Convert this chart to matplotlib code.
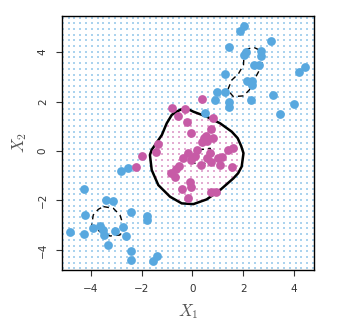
import numpy as np
import matplotlib
matplotlib.use("Agg")
import matplotlib.pyplot as plt
from matplotlib.path import Path

plt.rcParams["mathtext.fontset"] = "cm"

# observations, class 1 (blue) and class 2 (purple)
blue_x1 = [2.03, 1.89, 1.44, 3.08, 2.10, 2.05, 2.71, 2.71, 2.43, 2.64, 1.30, 2.16, 2.36, 2.36,
           4.42, 4.20, 0.98, 1.30, 0.88, 2.30, 3.17, 1.43, 1.46, 4.00, 3.46, 0.49,
           -2.52, -2.81, -4.28, -4.22, -3.38, -3.12, -2.40, -1.80, -1.80, -3.92, -3.62, -3.51,
           -3.46, -3.04, -2.71, -4.81, -4.25, -2.61, -3.30, -2.42, -2.42, -1.40, -1.53]
blue_x2 = [5.06, 4.87, 4.20, 4.47, 4.02, 3.89, 4.06, 3.85, 3.47, 3.47, 3.12, 2.85, 2.82, 2.66,
           3.41, 3.20, 2.39, 2.39, 2.06, 2.06, 2.27, 1.98, 1.79, 1.92, 1.50, 1.52,
           -0.70, -0.81, -1.55, -2.59, -2.00, -2.04, -2.48, -2.63, -2.79, -3.10, -3.04, -3.20,
           -3.40, -3.24, -3.06, -3.27, -3.36, -3.45, -3.79, -4.06, -4.40, -4.24, -4.44]

purple_x1 = [0.39, -0.81, -0.29, -0.57, -0.22, 0.80, -0.05, 0.72, 0.46, 0.59, 0.83, 0.37,
             -1.34, -1.44, -1.99, -2.22, 1.42, 1.61, 1.17, 0.17, -0.16, 0.70, 0.59, -0.35,
             -0.05, 0.34, 1.00, 1.09, 0.74, 1.55, -0.51, -0.64, -0.85, -0.68, -0.09, -0.05,
             -0.39, 0.74, 0.92, -0.16, 0.11, 0.52]
purple_x2 = [2.09, 1.75, 1.70, 1.43, 1.16, 1.35, 0.72, 0.88, 0.54, 0.40, 0.51, 0.35,
             0.27, -0.05, -0.19, -0.63, 0.04, 0.13, -0.23, 0.04, -0.09, -0.09, -0.27, -0.30,
             -0.36, -0.57, -0.30, -0.57, -0.43, -0.63, -0.61, -0.73, -0.90, -1.04, -1.27, -1.44,
             -1.54, -1.65, -1.65, -1.92, -0.20, 0.61]

# decision boundary (solid)
bound_x1 = [-0.29, -0.10, 0.04, 0.56, 1.09, 1.55, 1.78, 1.92, 2.01, 1.94, 1.80, 1.61, 1.09, 0.56,
            0.04, -0.42, -0.88, -1.34, -1.60, -1.67, -1.60, -1.47, -1.20, -1.01, -0.81, -0.62, -0.45, -0.29]
bound_x2 = [1.70, 1.66, 1.59, 1.39, 1.12, 0.78, 0.52, 0.20, -0.09, -0.63, -0.90, -1.11, -1.58, -1.96,
            -2.15, -2.12, -1.85, -1.38, -0.77, -0.16, 0.05, 0.24, 0.65, 1.12, 1.46, 1.59, 1.68, 1.70]

# margins (dashed)
marg1_x1 = [2.07, 2.40, 2.69, 2.79, 2.64, 2.43, 2.24, 2.01, 1.61, 1.39, 1.55, 1.81, 2.01, 2.03, 2.07]
marg1_x2 = [4.09, 4.20, 4.06, 3.71, 3.28, 2.87, 2.47, 2.23, 2.20, 2.47, 2.87, 3.12, 3.48, 3.89, 4.09]
marg2_x1 = [-3.50, -3.11, -2.85, -2.72, -2.85, -3.24, -3.63, -3.96, -3.90, -3.70, -3.50]
marg2_x2 = [-2.25, -2.32, -2.59, -3.00, -3.40, -3.44, -3.27, -3.00, -2.59, -2.36, -2.25]
marg3_x1 = [0.24, 0.70, 0.76, 0.50, 0.04, -0.02, 0.24]
marg3_x2 = [0.04, 0.11, -0.16, -0.50, -0.50, -0.23, 0.04]

blue = "#58A8DF"
purple = "#C75BA6"

fig = plt.figure(figsize=(3.41, 3.31), dpi=100)
ax = fig.add_axes([0.181, 0.184, 0.741, 0.769])

# background grid coloured by predicted class
gx, gy = np.meshgrid(np.linspace(-5.1, 4.75, 44), np.linspace(-4.75, 5.4, 45))
pts = np.column_stack([gx.ravel(), gy.ravel()])
inside = Path(np.column_stack([bound_x1, bound_x2])).contains_points(pts)
ax.scatter(pts[~inside, 0], pts[~inside, 1], s=0.55, color=blue, marker="s", lw=0, alpha=0.5)
ax.scatter(pts[inside, 0], pts[inside, 1], s=0.55, color=purple, marker="s", lw=0, alpha=0.5)

ax.plot(bound_x1, bound_x2, color="black", lw=1.8, solid_joinstyle="round")
for mx, my in [(marg1_x1, marg1_x2), (marg2_x1, marg2_x2), (marg3_x1, marg3_x2)]:
    ax.plot(mx, my, color="black", lw=1.0, ls=(0, (4, 3)))

ax.scatter(blue_x1, blue_x2, s=40, color=blue, lw=0, zorder=3)
ax.scatter(purple_x1, purple_x2, s=40, color=purple, lw=0, zorder=3)

ax.set_xlim(-5.14, 4.8)
ax.set_ylim(-4.82, 5.48)
ax.set_xticks([-4, -2, 0, 2, 4])
ax.set_yticks([-4, -2, 0, 2, 4])
ax.set_xticklabels(["\u22124", "\u22122", "0", "2", "4"])
ax.set_yticklabels(["\u22124", "\u22122", "0", "2", "4"], rotation=90, va="center")
ax.tick_params(direction="out", length=4, width=0.8, labelsize=7.5, colors="#333333", pad=6)
for s in ax.spines.values():
    s.set_linewidth(1.0)

ax.set_xlabel("$X_1$", fontsize=12, color="#555555", labelpad=6)
ax.set_ylabel("$X_2$", fontsize=12, color="#555555", labelpad=6)

plt.savefig("out.png", dpi=100)
